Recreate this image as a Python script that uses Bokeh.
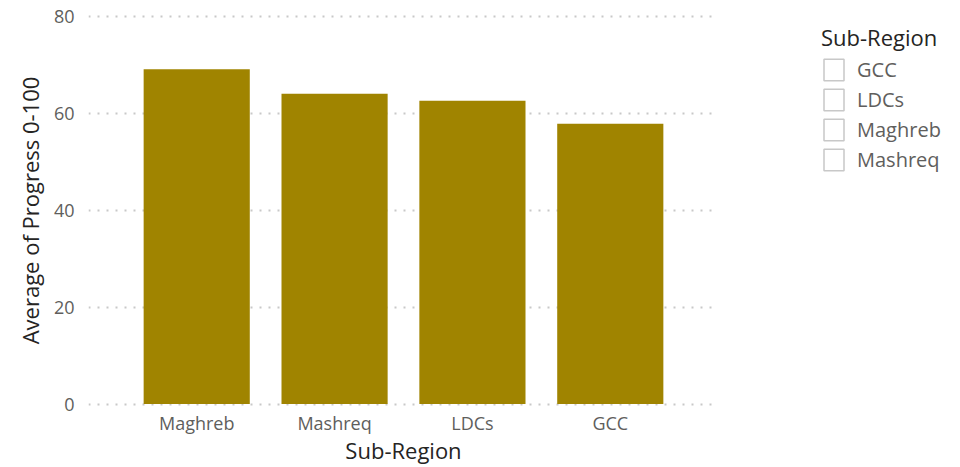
from bokeh.plotting import figure
from bokeh.models import FactorRange, Range1d, FixedTicker, Legend, LegendItem, ColumnDataSource
from bokeh.layouts import row
from bokeh.embed import file_html
from bokeh.resources import INLINE

# Data
sub_regions = ["Maghreb", "Mashreq", "LDCs", "GCC"]
avg_progress = [69.2, 64.1, 62.7, 57.9]
legend_labels = ["GCC", "LDCs", "Maghreb", "Mashreq"]
y_ticks = [0, 20, 40, 60, 80]

FONT = "Open Sans"
BAR = "#A08400"
TICK = "#605E5C"
DARK = "#252423"

p = figure(
    width=720, height=467,
    x_range=FactorRange(*sub_regions, range_padding=0.1425, range_padding_units="percent"),
    y_range=Range1d(-0.5, 80.5),
    output_backend="svg", toolbar_location=None,
    min_border_left=88, min_border_right=2, min_border_top=14, min_border_bottom=61,
)
p.outline_line_color = None
p.background_fill_color = "white"
p.border_fill_color = "white"

src = ColumnDataSource(dict(cat=sub_regions, val=avg_progress))
p.vbar(x="cat", top="val", bottom=0, width=0.77, source=src, fill_color=BAR, line_color=None)

# axes
p.yaxis.ticker = FixedTicker(ticks=y_ticks)
for ax in (p.xaxis[0], p.yaxis[0]):
    ax.axis_line_color = None
    ax.major_tick_line_color = None
    ax.minor_tick_line_color = None
    ax.major_tick_in = 0
    ax.major_tick_out = 0
    ax.minor_tick_out = 0
    ax.major_label_text_font = FONT
    ax.major_label_text_font_size = "18px"
    ax.major_label_text_color = TICK
    ax.axis_label_text_font = FONT
    ax.axis_label_text_font_size = "22px"
    ax.axis_label_text_font_style = "normal"
    ax.axis_label_text_color = DARK
p.yaxis.axis_label = "Average of Progress 0-100"
p.xaxis.axis_label = "Sub-Region"
p.yaxis.major_label_standoff = 14
p.yaxis.axis_label_standoff = 6
p.xaxis.major_label_standoff = 4
p.xaxis.axis_label_standoff = -3

p.xgrid.grid_line_color = None
p.ygrid.grid_line_color = "#C8C8C8"
p.ygrid.grid_line_dash = "2 7"
p.ygrid.grid_line_width = 2

# checkbox-style legend in a side panel
q = figure(
    width=240, height=467, x_range=Range1d(0, 1), y_range=Range1d(0, 1),
    output_backend="svg", toolbar_location=None,
    min_border_left=93, min_border_right=0, min_border_top=14, min_border_bottom=61,
)
q.axis.visible = False
q.grid.visible = False
q.outline_line_color = None
q.border_fill_color = "white"

items = []
for lab in legend_labels:
    # one off-range quad per entry so the legend can draw its box
    r = q.quad(left=[5], right=[6], top=[6], bottom=[5], fill_color="white", fill_alpha=0,
               line_color="#C8C8C8", line_width=1.5)
    items.append(LegendItem(label=lab, renderers=[r]))

leg = Legend(
    items=items, location="top_left",
    title="Sub-Region", title_text_font=FONT, title_text_font_size="22px",
    title_text_color=DARK, title_text_font_style="normal", title_standoff=4,
    label_text_font=FONT, label_text_font_size="20px", label_text_color=TICK,
    glyph_width=25, glyph_height=27, label_height=25, spacing=3, label_standoff=11,
    padding=0, margin=8, border_line_color=None, background_fill_alpha=0,
)
q.add_layout(leg, "center")

layout = row(p, q)
open("out.html", "w").write(file_html(layout, INLINE))
